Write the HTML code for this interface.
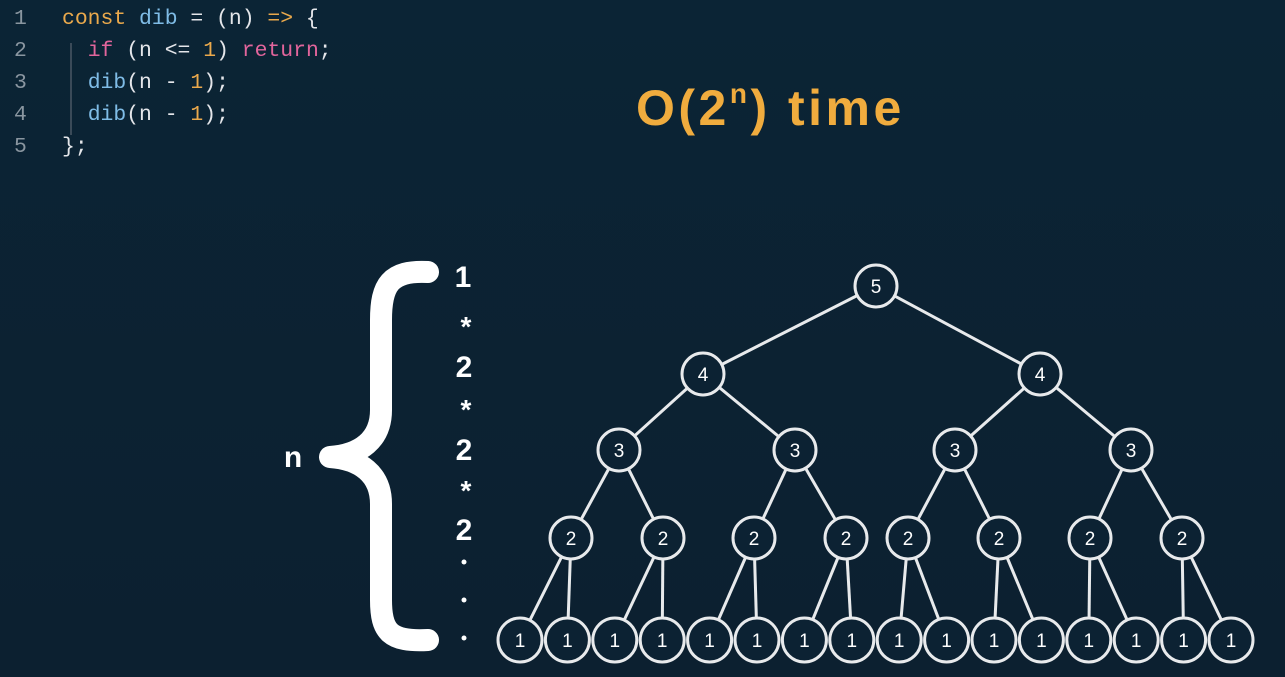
<!DOCTYPE html>
<html><head><meta charset="utf-8"><style>
html,body{margin:0;padding:0;background:#0c2234;}
body{width:1285px;height:677px;overflow:hidden;position:relative;background:linear-gradient(#0b2435,#0c2030);}
.code{position:absolute;left:0;top:3px;font-family:"Liberation Mono",monospace;font-size:21.4px;line-height:32px;color:#e4e6ea;white-space:pre;}
.ln{display:inline-block;width:62px;padding-left:14px;box-sizing:border-box;color:#8a96a0;}
.o{color:#eaa94c}.b{color:#7fbce6}.p{color:#e2659c}
</style></head><body>
<div class="code"><div><span class="ln">1</span><span class="o">const</span> <span class="b">dib</span> = (n) <span class="o">=&gt;</span> {</div><div><span class="ln">2</span>  <span class="p">if</span> (n &lt;= <span class="o">1</span>) <span class="p">return</span>;</div><div><span class="ln">3</span>  <span class="b">dib</span>(n - <span class="o">1</span>);</div><div><span class="ln">4</span>  <span class="b">dib</span>(n - <span class="o">1</span>);</div><div><span class="ln">5</span>};</div></div>
<div style="position:absolute;left:70px;top:43px;width:2px;height:92px;background:#3a4a58"></div>
<svg width="1285" height="677" style="position:absolute;left:0;top:0">
<text x="636" y="125" font-family="Liberation Sans,sans-serif" font-weight="bold" font-size="50" letter-spacing="3.5" fill="#f0ac3e">O(2<tspan dy="-22" font-size="28">n</tspan><tspan dy="22">) time</tspan></text>
<path d="M428,272 C390,270 381,285 381,320 L381,410 C381,440 360,455 330,457 C360,459 381,474 381,504 L381,600 C381,632 390,642 428,640" fill="none" stroke="#fff" stroke-width="22" stroke-linecap="round" stroke-linejoin="round"/>
<g font-family="Liberation Sans,sans-serif" font-weight="bold" fill="#fff" text-anchor="middle">
<text x="293" y="467" font-size="30">n</text>
<text x="463" y="287" font-size="30">1</text>
<text x="466" y="336" font-size="28">*</text>
<text x="464" y="377" font-size="30">2</text>
<text x="466" y="419" font-size="28">*</text>
<text x="464" y="460" font-size="30">2</text>
<text x="466" y="500" font-size="28">*</text>
<text x="464" y="540" font-size="30">2</text>
<circle cx="464" cy="562" r="2.5"/><circle cx="464" cy="600" r="2.5"/><circle cx="464" cy="638" r="2.5"/>
</g>
<g id="t" stroke="#e8eaec" stroke-width="3" fill="none"></g>
<g id="n"></g>
</svg>
<script>
var L=[[876],[703,1040],[619,795,955,1131],[571,663,754,846,908,999,1090,1182],[]];
for(var i=0;i<16;i++)L[4].push(520+i*47.4);
var Y=[286,374,450,538,640],V=[5,4,3,2,1];
var ns="http://www.w3.org/2000/svg",t=document.getElementById('t'),n=document.getElementById('n');
function el(p,tag,a){var e=document.createElementNS(ns,tag);for(var k in a)e.setAttribute(k,a[k]);p.appendChild(e);return e;}
for(var l=0;l<4;l++)for(var i=0;i<L[l].length;i++)for(var c=0;c<2;c++){var x2=L[l+1][2*i+c];el(t,'line',{x1:L[l][i],y1:Y[l],x2:x2,y2:Y[l+1]});}
for(var l=0;l<5;l++)for(var i=0;i<L[l].length;i++){var r=l==4?22:21;el(n,'circle',{cx:L[l][i],cy:Y[l],r:r,fill:'#0c2233',stroke:'#e8eaec','stroke-width':3});var tx=el(n,'text',{x:L[l][i],y:Y[l]+7,'text-anchor':'middle','font-family':'Liberation Sans,sans-serif','font-size':19,fill:'#fff'});tx.textContent=V[l];}
</script>
</body></html>
